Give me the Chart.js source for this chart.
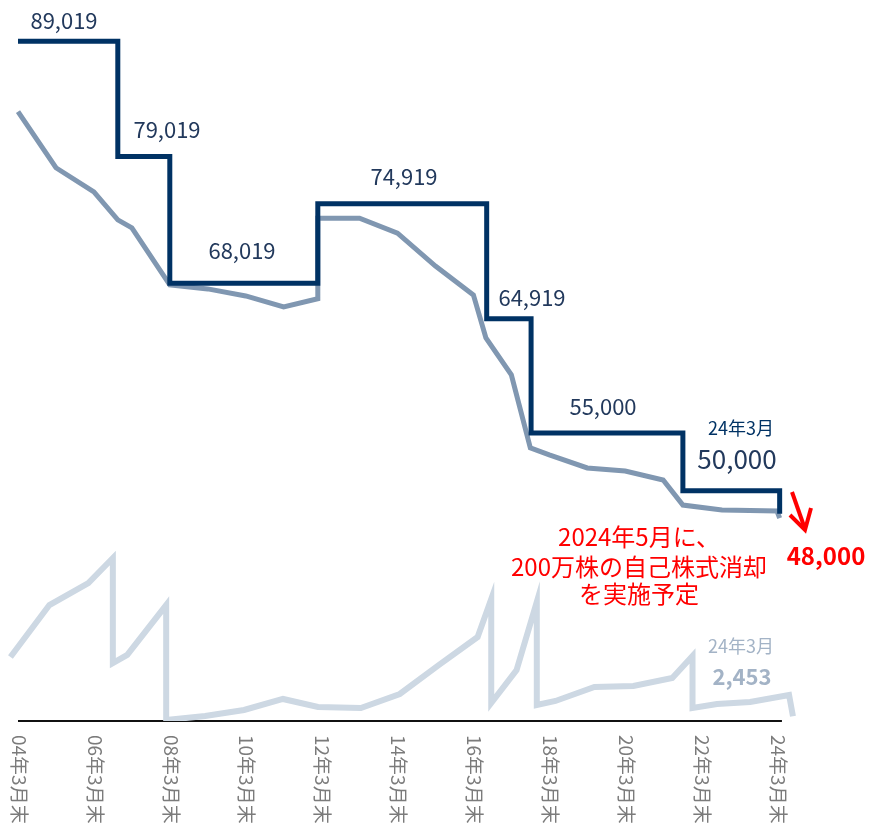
<!DOCTYPE html>
<html><head><meta charset="utf-8">
<script src="https://cdn.jsdelivr.net/npm/chart.js@4.4.1/dist/chart.umd.min.js"></script>
<style>html,body{margin:0;padding:0;background:#fff;}#wrap{width:870px;height:825px;position:relative;}</style>
</head><body><div id="wrap"><canvas id="c"></canvas></div>
<script>
// x values: fiscal position in years (2004 = 04年3月末)
const tickYears = [2004, 2006, 2008, 2010, 2012, 2014, 2016, 2018, 2020, 2022, 2024];
const tickLabels = ['04年3月末','06年3月末','08年3月末','10年3月末','12年3月末','14年3月末','16年3月末','18年3月末','20年3月末','22年3月末','24年3月末'];

// 発行済株式総数 (千株) — step changes
const issuedDates  = [2004, 2006.63, 2008, 2011.9, 2016.35, 2017.52, 2021.52, 2024.0, 2024.07];
const issuedShares = [89019, 79019, 68019, 74919, 64919, 55000, 50000, 50000, 48000];

// 自己株式控除後の株式数 (千株)
const outstandingDates  = [2004, 2005, 2006, 2006.63, 2007, 2008, 2009, 2010, 2011, 2011.9, 2011.9, 2013, 2014, 2015, 2016, 2016.33, 2017, 2017.5, 2018, 2019, 2020, 2021, 2021.52, 2022.55, 2024, 2024.07];
const outstandingShares = [82910, 78040, 75950, 73520, 72820, 67870, 67520, 66910, 65960, 66660, 73660, 73660, 72360, 69500, 67000, 63270, 60060, 53710, 53100, 51970, 51710, 50930, 48750, 48320, 48230, 47620];

// 自己株式数 (千株)
const treasuryDates  = [2004, 2005, 2006, 2006.63, 2006.63, 2007, 2008, 2008, 2009, 2010, 2011, 2011.9, 2013, 2014, 2015, 2016, 2016.35, 2016.35, 2017, 2017.52, 2017.52, 2018, 2019, 2020, 2021, 2021.52, 2021.52, 2022.15, 2023, 2024, 2024.1];
const treasuryShares = [6040, 10940, 13020, 15380, 5470, 6230, 10940, 90, 470, 1040, 2080, 1320, 1230, 2550, 5280, 7920, 11510, 1700, 4810, 11230, 1510, 1890, 3210, 3300, 4060, 6130, 1230, 1600, 1790, 2453, 453];

const FONT = '"Noto Sans CJK JP", "Noto Sans", sans-serif';
const NAVY = '#003264';
const NAVY_TXT = '#22395c';
const MID = '#8097b1';
const LIGHT = '#cdd8e3';
const LIGHT_TXT = '#a3b3c6';

function pts(xs, ys) { return xs.map((x, i) => ({ x: x, y: ys[i] })); }

const overlay = {
  id: 'overlay',
  beforeDatasetsDraw(chart) {
    const ctx = chart.ctx, xs = chart.scales.x, y2 = chart.scales.y2;
    ctx.save();
    ctx.strokeStyle = '#111';
    ctx.lineWidth = 2;
    ctx.beginPath();
    const yb = Math.round(y2.getPixelForValue(0));
    ctx.moveTo(xs.getPixelForValue(2004), yb);
    ctx.lineTo(xs.getPixelForValue(2024.13), yb);
    ctx.stroke();
    ctx.restore();
  },
  afterDraw(chart) {
    const ctx = chart.ctx, xs = chart.scales.x;
    ctx.save();
    // rotated tick labels
    ctx.fillStyle = '#7b7b7b';
    ctx.font = '19px ' + FONT;
    ctx.textAlign = 'left';
    ctx.textBaseline = 'middle';
    tickYears.forEach((yr, i) => {
      const px = xs.getPixelForValue(yr);
      ctx.save();
      ctx.translate(px + 1, 735);
      ctx.rotate(Math.PI / 2);
      ctx.fillText(tickLabels[i], 0, 0);
      ctx.restore();
    });
    function txt(s, x, y, size, color, weight) {
      ctx.font = (weight || '400') + ' ' + size + 'px ' + FONT;
      ctx.fillStyle = color;
      ctx.textAlign = 'center';
      ctx.textBaseline = 'middle';
      ctx.fillText(s, x, y);
    }
    txt('89,019', 64, 21, 22, NAVY_TXT);
    txt('79,019', 167, 130, 22, NAVY_TXT);
    txt('68,019', 242, 251, 22, NAVY_TXT);
    txt('74,919', 404, 177, 22, NAVY_TXT);
    txt('64,919', 532, 298, 22, NAVY_TXT);
    txt('55,000', 603, 407, 22, NAVY_TXT);
    txt('24年3月', 741, 428, 18, NAVY);
    txt('50,000', 737, 459, 26, NAVY_TXT);
    txt('2024年5月に、', 639, 537, 24, '#ff0000');
    txt('200万株の自己株式消却', 639, 567, 24, '#ff0000');
    txt('を実施予定', 639, 594, 24, '#ff0000');
    txt('48,000', 826, 556, 24, '#ff0000', '700');
    txt('24年3月', 741, 646, 18, LIGHT_TXT);
    txt('2,453', 742, 677, 22, LIGHT_TXT, '700');
    // red arrow
    ctx.strokeStyle = '#ff0000';
    ctx.lineWidth = 4;
    ctx.lineCap = 'butt';
    ctx.lineJoin = 'miter';
    ctx.beginPath();
    ctx.moveTo(792, 492);
    ctx.lineTo(805, 529);
    ctx.stroke();
    ctx.beginPath();
    ctx.moveTo(790, 515);
    ctx.lineTo(805, 530);
    ctx.lineTo(811, 508);
    ctx.stroke();
    ctx.restore();
  }
};

new Chart(document.getElementById('c'), {
  type: 'line',
  data: {
    datasets: [
      { label: '発行済株式総数', data: pts(issuedDates, issuedShares), borderColor: NAVY, borderWidth: 5, stepped: true, pointRadius: 0, xAxisID: 'x', yAxisID: 'y', fill: false },
      { label: '自己株式控除後', data: pts(outstandingDates, outstandingShares), borderColor: MID, borderWidth: 5, pointRadius: 0, tension: 0, xAxisID: 'x', yAxisID: 'y', fill: false },
      { label: '自己株式', data: pts(treasuryDates, treasuryShares), borderColor: LIGHT, borderWidth: 6, pointRadius: 0, tension: 0, xAxisID: 'x2', yAxisID: 'y2', fill: false }
    ]
  },
  options: {
    responsive: true,
    maintainAspectRatio: false,
    animation: false,
    layout: { padding: { top: 30, bottom: 104, left: 0, right: 0 } },
    scales: {
      x:  { type: 'linear', min: 2003.5257, max: 2026.4506, display: false },
      x2: { type: 'linear', min: 2003.7313, max: 2026.079, display: false },
      y:  { type: 'linear', min: 30000, max: 90000, display: false },
      y2: { type: 'linear', min: 0, max: 65190, display: false }
    },
    plugins: { legend: { display: false }, tooltip: { enabled: false } }
  },
  plugins: [overlay]
});
</script>
</body></html>
